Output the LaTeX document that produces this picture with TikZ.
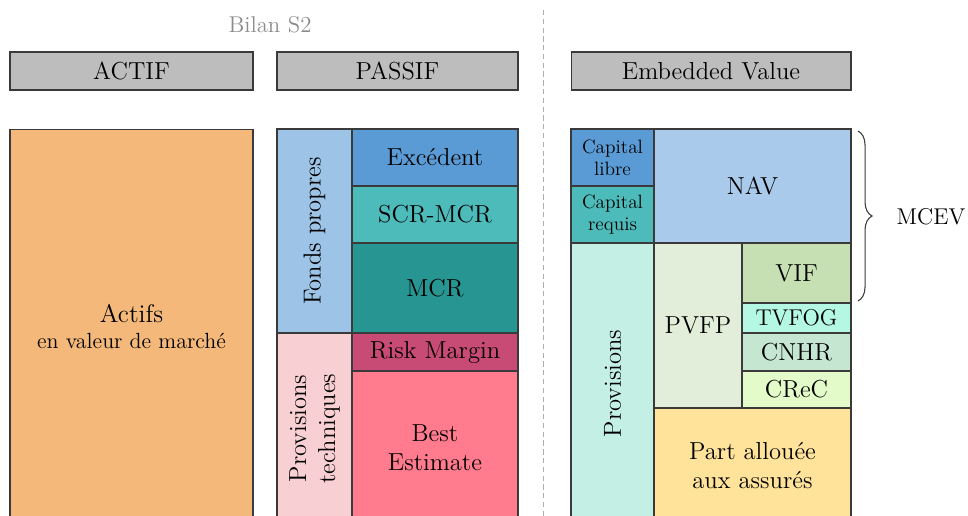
\documentclass[tikz,border=0pt]{standalone}
\usepackage{tikz}
\usetikzlibrary{positioning, decorations.pathreplacing}

\definecolor{linegray}{HTML}{3A3A3A}
\definecolor{titlegray}{HTML}{8C8C8C}
\definecolor{hdrgray}{HTML}{BDBDBD}
\definecolor{cActif}{HTML}{F4B97A}
\definecolor{cFonds}{HTML}{9DC3E6}
\definecolor{cExc}{HTML}{5B9BD5}
\definecolor{cScr}{HTML}{4EBBBB}
\definecolor{cMcr}{HTML}{279591}
\definecolor{cProvTech}{HTML}{F8D0D3}
\definecolor{cRisk}{HTML}{C84B76}
\definecolor{cBest}{HTML}{FF7B8D}
\definecolor{cNav}{HTML}{A9CAEA}
\definecolor{cProv}{HTML}{C3EFE5}
\definecolor{cPvfp}{HTML}{E2EED9}
\definecolor{cVif}{HTML}{C6E0B4}
\definecolor{cTvfog}{HTML}{B4F7E2}
\definecolor{cCnhr}{HTML}{C5E6D1}
\definecolor{cCrec}{HTML}{E3FBC8}
\definecolor{cPart}{HTML}{FFE39B}

\tikzstyle{Box} = [
draw=linegray, line width=0.6pt,
inner sep=0pt, align=center,
font=\fontsize{14}{16.5}\selectfont]
\tikzstyle{Header} = [Box, fill=hdrgray, minimum height=0.76cm]
\tikzstyle{Small} = [font=\fontsize{11}{12.7}\selectfont]
\tikzstyle{Brace} = [
draw=linegray, line width=0.6pt,
decoration={brace, amplitude=8pt}, decorate]

\begin{document}
\begin{tikzpicture}[x=0.02cm, y=-0.02cm]
    \useasboundingbox (0,0) rectangle (968,516);
    \clip (0,0) rectangle (968,516);

    % titles
    \node [text=titlegray, font=\fontsize{13}{15}\selectfont](bilan) at (270,25){Bilan S2};
    \node [Header, minimum width=4.86cm](actifH) at (131.5,71){ACTIF};
    \node [Header, minimum width=4.82cm](passifH) at (397.5,71){PASSIF};
    \node [Header, minimum width=5.6cm](evH) at (711,71){Embedded Value};

    \coordinate (dtop) at (543,10);
    \coordinate (dbot) at (543,516);
    \draw [titlegray!70, line width=0.5pt, dash pattern=on 3pt off 2pt] (dtop) -- (dbot);

    % actif
    \node [Box, fill=cActif, minimum width=4.86cm, minimum height=7.9cm](actifs) at (131.5,326.5)
        {\fontsize{14.5}{17}\selectfont Actifs\\[-2pt]{\fontsize{12.5}{14.5}\selectfont en valeur de march\'e}};

    % passif
    \node [Box, fill=cFonds, rotate=90, minimum width=4.08cm, minimum height=1.5cm](fonds) at (314.5,231){Fonds propres};
    \node [Box, fill=cProvTech, rotate=90, minimum width=3.82cm, minimum height=1.5cm](provtech) at (314.5,428.5){Provisions\\techniques};
    \node [Box, fill=cExc, minimum width=3.32cm, minimum height=1.14cm](exc) at (435,157.5){Exc\'edent};
    \node [Box, fill=cScr, minimum width=3.32cm, minimum height=1.14cm](scr) at (435,214.5){SCR-MCR};
    \node [Box, fill=cMcr, minimum width=3.32cm, minimum height=1.8cm](mcr) at (435,288){MCR};
    \node [Box, fill=cRisk, minimum width=3.32cm, minimum height=0.76cm](risk) at (435,352){Risk Margin};
    \node [Box, fill=cBest, minimum width=3.32cm, minimum height=3.06cm](best) at (435,447.5){Best\\Estimate};

    % embedded value
    \node [Box, Small, fill=cExc, minimum width=1.66cm, minimum height=1.14cm](caplib) at (612.5,157.5){Capital\\libre};
    \node [Box, Small, fill=cScr, minimum width=1.66cm, minimum height=1.14cm](capreq) at (612.5,214.5){Capital\\requis};
    \node [Box, fill=cProv, rotate=90, minimum width=5.62cm, minimum height=1.66cm](prov) at (612.5,383.5){Provisions};
    \node [Box, fill=cNav, minimum width=3.94cm, minimum height=2.28cm](nav) at (752.5,186){NAV};
    \node [Box, fill=cPvfp, minimum width=1.76cm, minimum height=3.3cm](pvfp) at (698,325.5){PVFP};
    \node [Box, fill=cVif, minimum width=2.18cm, minimum height=1.2cm](vif) at (796.5,273){VIF};
    \node [Box, fill=cTvfog, minimum width=2.18cm, minimum height=0.6cm, font=\fontsize{13}{15}\selectfont](tvfog) at (796.5,318){TVFOG};
    \node [Box, fill=cCnhr, minimum width=2.18cm, minimum height=0.76cm](cnhr) at (796.5,352){CNHR};
    \node [Box, fill=cCrec, minimum width=2.18cm, minimum height=0.74cm](crec) at (796.5,389.5){CReC};
    \node [Box, fill=cPart, minimum width=3.94cm, minimum height=2.32cm](part) at (752.5,466){Part allou\'ee\\aux assur\'es};

    % MCEV
    \coordinate (mtop) at (858,131);
    \coordinate (mbot) at (858,301);
    \draw [Brace] (mtop) -- (mbot);
    \node [font=\fontsize{13}{15}\selectfont](mcev) at (931,217){MCEV};
\end{tikzpicture}
\end{document}
